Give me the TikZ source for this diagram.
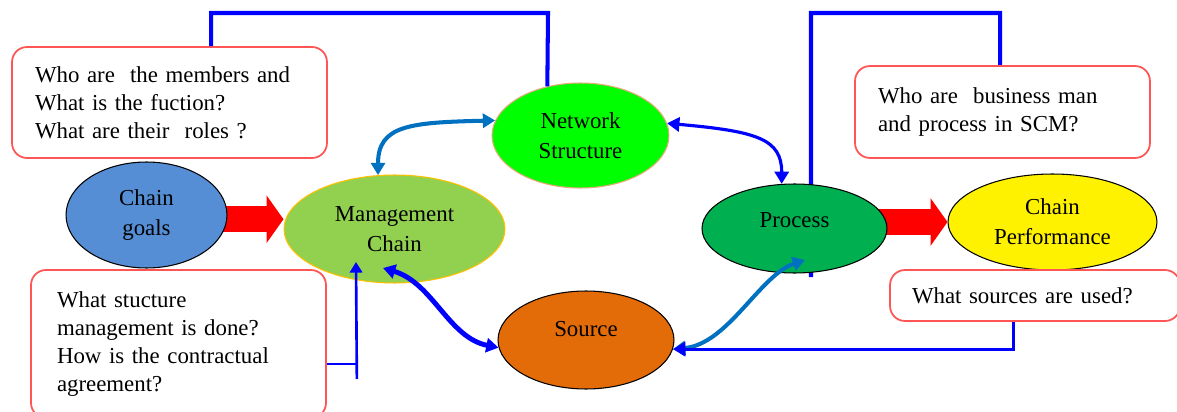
\documentclass[tikz,border=0pt]{standalone}
\usepackage{fontspec}
\setmainfont{Liberation Serif}
\usetikzlibrary{arrows.meta,shapes.geometric,backgrounds}

\definecolor{goalblue}{RGB}{85,142,213}
\definecolor{mgmtgreen}{RGB}{146,208,80}
\definecolor{mgmtedge}{RGB}{255,192,0}
\definecolor{netgreen}{RGB}{0,255,0}
\definecolor{netedge}{RGB}{230,170,120}
\definecolor{procgreen}{RGB}{0,176,80}
\definecolor{srcorange}{RGB}{227,108,9}
\definecolor{boxred}{RGB}{255,85,85}
\definecolor{lineblue}{RGB}{0,0,255}
\definecolor{steel}{RGB}{0,112,192}

\begin{document}
\begin{tikzpicture}[x=0.02cm, y=-0.02cm,
    every node/.style={font=\fontsize{13}{16}\selectfont},
    blob/.style={ellipse, draw=black, line width=0.6pt, inner sep=0pt, align=center,
        font=\fontsize{13}{17}\selectfont},
    qbox/.style={rectangle, draw=boxred, line width=1pt, rounded corners=0.3cm,
        fill=white, align=left, inner ysep=0pt},
    link/.style={draw=lineblue, line width=2.3pt},
    dbl/.style={line width=2.3pt, {Triangle[length=7pt,width=8pt]}-{Triangle[length=7pt,width=8pt]}},
    bigarrow/.style={draw=red, line width=0.52cm, -{Triangle[length=0.34cm,width=0.94cm]}}]

    \useasboundingbox (0,0) rectangle (1177,412);

    % Ellipses
    \node[blob, fill=goalblue, minimum width=3.22cm, minimum height=2.12cm] (goals) at (146.5,215) {Chain\\goals};
    \node[blob, fill=mgmtgreen, draw=mgmtedge, minimum width=4.42cm, minimum height=2.16cm] (mgmt) at (394.5,229) {Management\\Chain};
    \node[blob, fill=netgreen, draw=netedge, minimum width=3.54cm, minimum height=2.10cm] (net) at (580.5,135.5) {Network\\Structure};
    \node[blob, fill=procgreen, minimum width=3.70cm, minimum height=1.78cm] (proc) at (794.5,228.5) {\raisebox{4.5pt}[\height][\depth]{Process}};
    \node[blob, fill=yellow, minimum width=4.18cm, minimum height=1.92cm] (perf) at (1052.5,222) {Chain\\Performance};
    \node[blob, fill=srcorange, minimum width=3.52cm, minimum height=1.96cm] (src) at (586,340) {\raisebox{6pt}[\height][\depth]{Source}};

    % Question boxes
    \node[qbox, text width=5.38cm, inner xsep=0.46cm, minimum height=2.22cm] (members) at (169.5,102.5)
        {Who are\ \ the members and\\What is the fuction?\\What are their\ \ roles ?};
    \node[qbox, text width=4.98cm, inner xsep=0.46cm, minimum height=1.84cm] (business) at (1002.5,112)
        {Who are\ \ business man\\and process in SCM?};
    \node[qbox, text width=4.86cm, inner xsep=0.52cm, minimum height=2.96cm] (contract) at (178.5,344)
        {What stucture\\management is done?\\How is the contractual\\agreement?};
    \node[qbox, text width=4.92cm, inner xsep=0.44cm, minimum height=1.02cm] (sources) at (1035,295.5)
        {What sources are used?};

    \coordinate (topL) at (548,13);
    \coordinate (topR) at (811,13);

    % Lines behind the ellipses
    \begin{scope}[on background layer]
        \fill[white] (0,0) rectangle (1177,412);
        \draw[link] ([shift={(146,0)}]business.north west) |- (topR) -- ([shift={(16.5,48.5)}]proc.center);
        \draw[bigarrow] (goals.-3 -| goals.center) -- (goals.-3 -| mgmt.west);
        \draw[bigarrow] (perf.west -| proc.center) -- (perf.west);
    \end{scope}

    \draw[link] ([shift={(200,0)}]members.north west) |- (topL) -- (net.124);

    % Curved links
    \draw[dbl, steel] (mgmt.107) .. controls +(0,-50) and +(-85,2) .. (net.170);
    \draw[dbl, lineblue, line width=1.8pt] (net.8) .. controls +(90,8) and +(0,-45) .. (proc.106);
    \draw[dbl, lineblue, line width=2.8pt] ([shift={(-11.5,39)}]mgmt.center) .. controls +(50,15) and +(-50,-10) .. (src.185);
    \draw[dbl, steel] (src.-6) .. controls +(55,-5) and +(-45,15) .. ([shift={(10.5,31.5)}]proc.center);

    \draw[link, line width=1.8pt, -{Triangle[length=7pt,width=8pt]}] ([shift={(124,0)}]sources.south west) |- (src.-6);

    \draw[link, line width=1.5pt] ([shift={(0,20)}]contract.east) -- ++(30,0);
    \draw[link, line width=1.5pt, -{Triangle[length=6pt,width=7pt]}] ([shift={(30,35)}]contract.east) -- ([shift={(-38.5,33)}]mgmt.center);
\end{tikzpicture}
\end{document}
